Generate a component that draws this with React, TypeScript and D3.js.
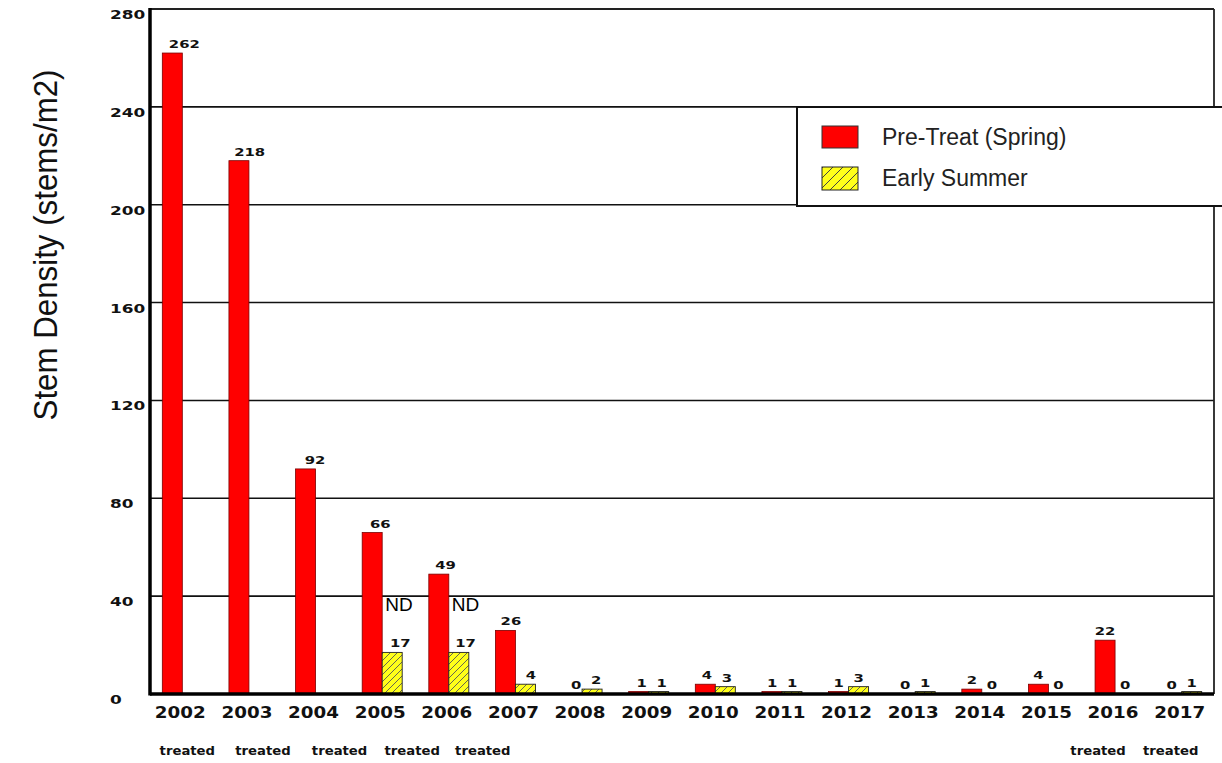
import React from 'react';
import * as d3 from 'd3';

const years = ['2002','2003','2004','2005','2006','2007','2008','2009','2010','2011','2012','2013','2014','2015','2016','2017'];
const preTreat: number[] = [262, 218, 92, 66, 49, 26, 0, 1, 4, 1, 1, 0, 2, 4, 22, 0];
const earlySummer: (number | null)[] = [null, null, null, 17, 17, 4, 2, 1, 3, 1, 3, 1, 0, 0, 0, 1];
const yTicks = [0, 40, 80, 120, 160, 200, 240, 280];
const treatedYears = ['2002','2003','2004','2005','2006','2016','2017'];
const ndYears = ['2005','2006'];
const seriesNames = ['Pre-Treat (Spring)', 'Early Summer'];

const W = 1222, H = 763;
const left = 150, right = 1214, top = 9, bottom = 694;

const STRETCH_FONT = '"DejaVu Sans", sans-serif';

function SText({ x, y, sx = 1.25, anchor = 'middle', size, children, weight = 'bold', family = STRETCH_FONT, fill = '#111' }: any) {
  return (
    <text transform={`translate(${x},${y}) scale(${sx},1)`} textAnchor={anchor} fontSize={size} fontWeight={weight} fontFamily={family} fill={fill}>
      {children}
    </text>
  );
}

export default function App() {
  const x = d3.scaleBand().domain(years).range([left - 1, right + 1]).padding(0);
  const inner = d3.scaleBand().domain(['a', 'b']).range([0, 40]);
  const y = d3.scaleLinear().domain([0, 280]).range([bottom, top]);
  const center = (yr: string) => (x(yr) as number) + x.bandwidth() / 2;
  const bw = inner.bandwidth();
  const treatedOffsets: Record<string, number> = { '2002': 5, '2003': 14, '2004': 24, '2005': 30, '2006': 34, '2016': -17, '2017': -11 };
  const labelDx = (i: number) => Math.max(0, 12 - i * 1.3);

  return (
    <svg width={W} height={H} style={{ position: 'absolute', left: 0, top: 0, background: '#fff' }}>
      <defs>
        <pattern id="hatch" patternUnits="userSpaceOnUse" width="7" height="7">
          <rect width="7" height="7" fill="#ffff1a" />
          <path d="M-1,8 L8,-1 M-1,1 L1,-1 M6,8 L8,6" stroke="#555" strokeWidth="0.9" />
        </pattern>
        <pattern id="hatchL" patternUnits="userSpaceOnUse" width="10" height="10">
          <rect width="10" height="10" fill="#ffff1a" />
          <path d="M-1,11 L11,-1 M-1,1 L1,-1 M9,11 L11,9" stroke="#444" strokeWidth="1" />
        </pattern>
      </defs>

      {/* gridlines */}
      {yTicks.filter(t => t > 0 && t < 280).map(t => (
        <line key={t} x1={left} x2={right} y1={y(t)} y2={y(t)} stroke="#111" strokeWidth={1.6} />
      ))}
      <line x1={left} x2={right} y1={y(280)} y2={y(280)} stroke="#222" strokeWidth={2.2} />
      <line x1={right} x2={right} y1={y(280)} y2={y(0)} stroke="#222" strokeWidth={1.8} />

      {/* bars */}
      {years.map((yr, i) => {
        const c = center(yr);
        const x0 = c - 20;
        const v1 = preTreat[i];
        const v2 = earlySummer[i];
        return (
          <g key={yr}>
            {v1 > 0 && (
              <rect x={x0 + (inner('a') as number)} y={y(v1)} width={bw} height={y(0) - y(v1)} fill="#ff0000" stroke="#7a0000" strokeWidth={0.8} />
            )}
            {v2 !== null && v2 > 0 && (
              <rect x={x0 + (inner('b') as number)} y={y(v2)} width={bw} height={y(0) - y(v2)} fill="url(#hatch)" stroke="#222" strokeWidth={0.9} />
            )}
            <SText x={x0 + (inner('a') as number) + bw / 2 + labelDx(i)} y={y(v1) - 5} size={11} sx={1.35}>{v1}</SText>
            {v2 !== null && (
              <SText x={x0 + (inner('b') as number) + bw / 2 + labelDx(i)} y={y(v2) - 5} size={11} sx={1.35}>{v2}</SText>
            )}
          </g>
        );
      })}

      {/* ND annotations */}
      {ndYears.map(yr => (
        <text key={yr} x={center(yr) + 3} y={y(34)} fontSize={19} fontFamily='"Liberation Sans", Arial, sans-serif' fill="#000">ND</text>
      ))}

      {/* axes */}
      <line x1={left} x2={left} y1={y(280) - 1} y2={y(0) + 1.5} stroke="#000" strokeWidth={3.5} />
      <line x1={left} x2={right} y1={y(0)} y2={y(0)} stroke="#000" strokeWidth={3.5} />

      {/* y tick labels */}
      {yTicks.map(t => (
        <SText key={t} x={110} y={y(t) + 10} size={13} sx={1.3} anchor="start">{t}</SText>
      ))}

      {/* x labels */}
      {years.map(yr => (
        <SText key={yr} x={center(yr) - 2} y={718} size={15} sx={1.22}>{yr}</SText>
      ))}
      {treatedYears.map(yr => (
        <SText key={yr} x={center(yr) + treatedOffsets[yr]} y={755} size={11.5} sx={1.15}>treated</SText>
      ))}

      {/* y title */}
      <text transform={`translate(57,245) rotate(-90) scale(0.92,1)`} textAnchor="middle" fontSize={34} fontFamily='"Liberation Sans", Arial, sans-serif' fill="#111">
        Stem Density (stems/m2)
      </text>

      {/* legend */}
      <rect x={797} y={107} width={440} height={99} fill="#fff" stroke="#111" strokeWidth={2} />
      <rect x={822} y={126} width={36} height={22} fill="#ff0000" stroke="#333" strokeWidth={1} />
      <rect x={822} y={167} width={36} height={23} fill="url(#hatchL)" stroke="#222" strokeWidth={1} />
      <text x={882} y={145} fontSize={23} fontFamily='"Liberation Sans", Arial, sans-serif' fill="#222">{seriesNames[0]}</text>
      <text x={882} y={186} fontSize={23} fontFamily='"Liberation Sans", Arial, sans-serif' fill="#222">{seriesNames[1]}</text>
    </svg>
  );
}
